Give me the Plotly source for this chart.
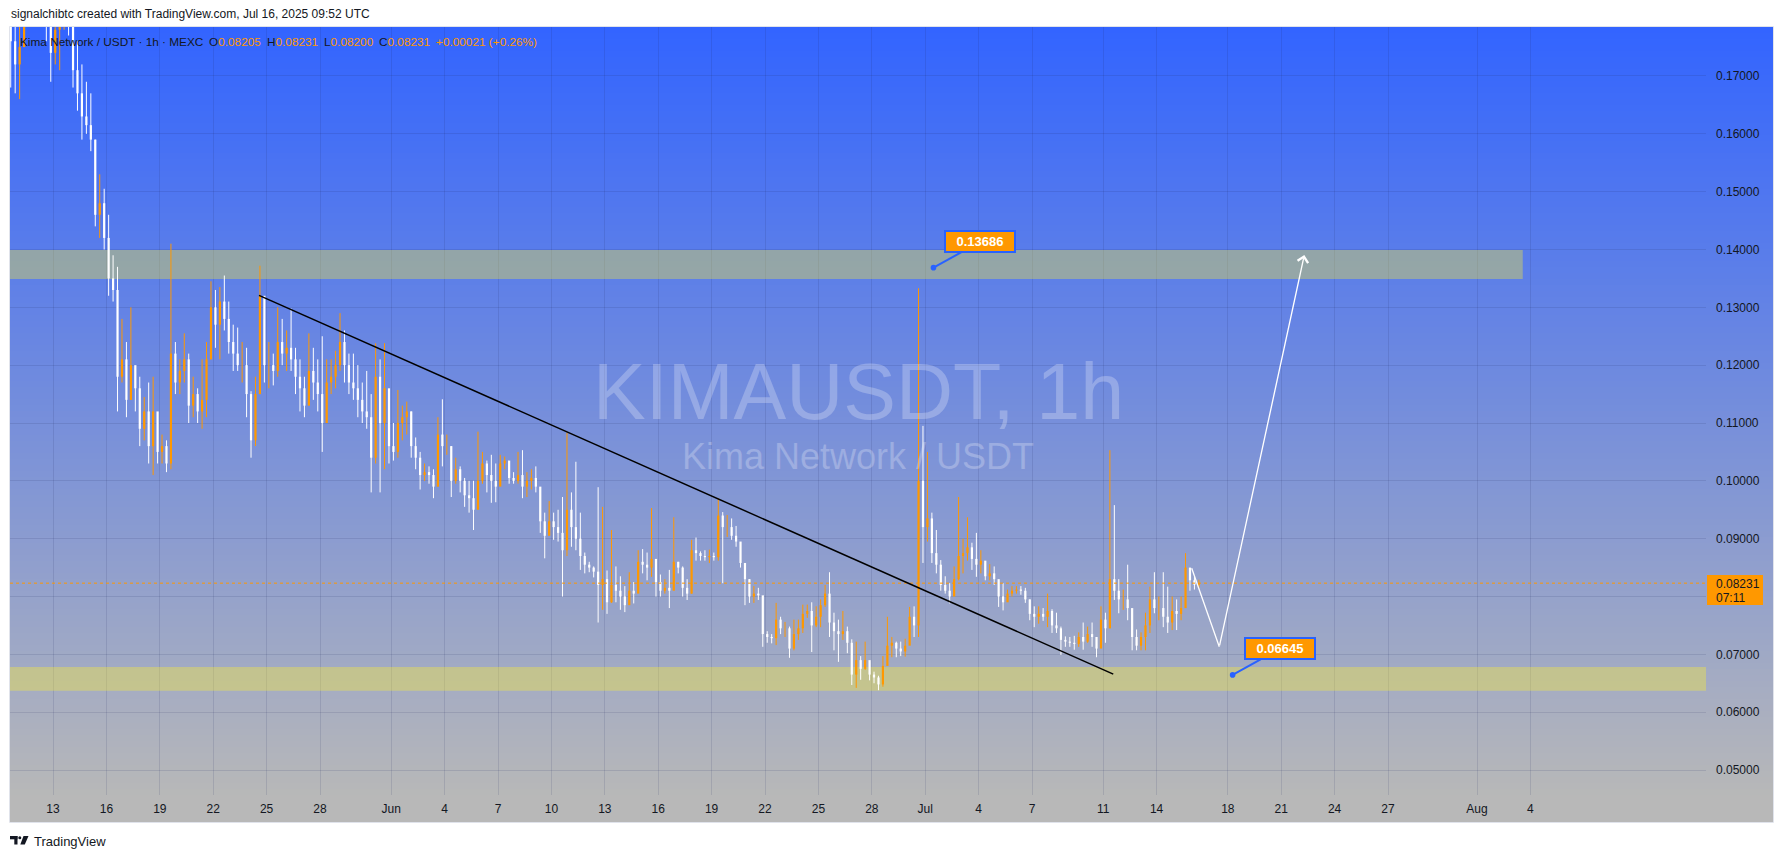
import plotly.graph_objects as go
import pandas as pd

# ---------------- data (6h candles) ----------------
candle_start = "2025-05-10 12:00"
first_open = 0.182

high_6h = [
    0.185, 0.182,                      # May 10 (12h, 18h)
    0.180, 0.190, 0.195, 0.196,        # May 11
    0.192, 0.190, 0.186, 0.183,        # May 12
    0.184, 0.180, 0.190, 0.188,        # May 13
    0.182, 0.176, 0.172, 0.169,        # May 14
    0.167, 0.159, 0.153, 0.1505,       # May 15
    0.146, 0.139, 0.137, 0.128,        # May 16
    0.124, 0.130, 0.1195, 0.118,       # May 17
    0.1145, 0.117, 0.118, 0.110,       # May 18
    0.108, 0.107, 0.141, 0.124,        # May 19
    0.121, 0.1255, 0.122, 0.118,       # May 20
    0.116, 0.121, 0.124, 0.1345,       # May 21
    0.133, 0.1335, 0.1355, 0.131,      # May 22
    0.127, 0.1265, 0.124, 0.123,       # May 23
    0.1155, 0.118, 0.1372, 0.128,      # May 24
    0.124, 0.122, 0.130, 0.128,        # May 25
    0.126, 0.1298, 0.123, 0.121,       # May 26
    0.118, 0.1255, 0.123, 0.121,       # May 27
    0.125, 0.121, 0.121, 0.1225,       # May 28
    0.129, 0.126, 0.122, 0.122,        # May 29
    0.120, 0.117, 0.119, 0.115,        # May 30
    0.1238, 0.121, 0.1238, 0.113,      # May 31
    0.110, 0.1157, 0.113, 0.1137,      # Jun 1
    0.112, 0.1075, 0.105, 0.103,       # Jun 2
    0.1025, 0.102, 0.111, 0.1141,      # Jun 3
    0.108, 0.106, 0.104, 0.1025,       # Jun 4
    0.1005, 0.100, 0.100, 0.1085,      # Jun 5
    0.105, 0.1035, 0.1045, 0.103,      # Jun 6
    0.1045, 0.1042, 0.102, 0.1015,     # Jun 7
    0.105, 0.1053, 0.1015, 0.102,      # Jun 8
    0.1025, 0.0985, 0.0945, 0.0965,    # Jun 9
    0.0945, 0.095, 0.0972, 0.1083,     # Jun 10
    0.098, 0.1033, 0.0945, 0.0876,     # Jun 11
    0.086, 0.0852, 0.0989, 0.0955,     # Jun 12
    0.0845, 0.0915, 0.0852, 0.0835,    # Jun 13
    0.0818, 0.0842, 0.0825, 0.088,     # Jun 14
    0.0882, 0.0876, 0.0953, 0.0852,    # Jun 15
    0.0838, 0.083, 0.0846, 0.0937,     # Jun 16
    0.086, 0.0852, 0.083, 0.0898,      # Jun 17
    0.0902, 0.0878, 0.088, 0.0881,     # Jun 18
    0.0876, 0.097, 0.0946, 0.0941,     # Jun 19
    0.0935, 0.0922, 0.0893, 0.0856,    # Jun 20
    0.083, 0.0818, 0.0815, 0.080,      # Jun 21
    0.074, 0.0735, 0.0789, 0.0765,     # Jun 22
    0.0756, 0.0748, 0.076, 0.076,      # Jun 23
    0.0786, 0.0786, 0.079, 0.0783,     # Jun 24
    0.0795, 0.082, 0.0842, 0.0772,     # Jun 25
    0.076, 0.0775, 0.0748, 0.0726,     # Jun 26
    0.0722, 0.0697, 0.0722, 0.0686,    # Jun 27
    0.067, 0.0663, 0.0697, 0.0765,     # Jun 28
    0.073, 0.0722, 0.0722, 0.0727,     # Jun 29
    0.0782, 0.0783, 0.1333, 0.1095,    # Jun 30
    0.105, 0.0945, 0.0915, 0.0863,     # Jul 1
    0.0835, 0.0823, 0.0852, 0.0972,    # Jul 2
    0.090, 0.0937, 0.0893, 0.091,      # Jul 3
    0.088, 0.0858, 0.0856, 0.0852,     # Jul 4
    0.0828, 0.0823, 0.0812, 0.0818,    # Jul 5
    0.0818, 0.0818, 0.0815, 0.0795,    # Jul 6
    0.0783, 0.0783, 0.078, 0.0805,     # Jul 7
    0.0778, 0.0772, 0.0748, 0.0731,    # Jul 8
    0.073, 0.0732, 0.0738, 0.0755,     # Jul 9
    0.0748, 0.0755, 0.0727, 0.0783,    # Jul 10
    0.0772, 0.1053, 0.0958, 0.083,     # Jul 11
    0.0812, 0.0855, 0.0772, 0.0743,    # Jul 12
    0.0738, 0.0772, 0.0817, 0.0842,    # Jul 13
    0.080, 0.0842, 0.0817, 0.080,      # Jul 14
    0.0795, 0.080, 0.0875, 0.0842,     # Jul 15
    0.0835, 0.0829,                    # Jul 16
]

low_6h = [
    0.168, 0.167,
    0.166, 0.176, 0.182, 0.184,
    0.181, 0.179, 0.176, 0.169,
    0.172, 0.171, 0.178, 0.177,
    0.168, 0.164, 0.159, 0.160,
    0.157, 0.144, 0.142, 0.140,
    0.132, 0.131, 0.112, 0.117,
    0.111, 0.114, 0.112, 0.106,
    0.107, 0.103, 0.101, 0.103,
    0.103, 0.1015, 0.102, 0.115,
    0.115, 0.117, 0.110, 0.111,
    0.110, 0.109, 0.111, 0.121,
    0.123, 0.121, 0.126, 0.122,
    0.119, 0.119, 0.117, 0.111,
    0.104, 0.106, 0.115, 0.117,
    0.116, 0.1165, 0.118, 0.120,
    0.119, 0.119, 0.115, 0.112,
    0.111, 0.114, 0.114, 0.112,
    0.105, 0.110, 0.115, 0.116,
    0.119, 0.117, 0.115, 0.114,
    0.111, 0.110, 0.109, 0.098,
    0.103, 0.098, 0.102, 0.103,
    0.1035, 0.104, 0.107, 0.108,
    0.104, 0.102, 0.0985, 0.100,
    0.0995, 0.097, 0.099, 0.1025,
    0.1045, 0.0972, 0.0995, 0.098,
    0.0955, 0.0945, 0.0915, 0.098,
    0.0995, 0.098, 0.0962, 0.0963,
    0.0995, 0.102, 0.0995, 0.0995,
    0.0995, 0.097, 0.0972, 0.0985,
    0.098, 0.091, 0.0866, 0.091,
    0.0898, 0.0895, 0.080, 0.087,
    0.0886, 0.088, 0.0846, 0.084,
    0.0842, 0.0833, 0.0755, 0.0777,
    0.077, 0.0789, 0.079, 0.0777,
    0.0773, 0.0794, 0.0788, 0.0815,
    0.084, 0.0828, 0.0834, 0.080,
    0.080, 0.0805, 0.078, 0.0828,
    0.084, 0.080, 0.0794, 0.0805,
    0.0862, 0.0862, 0.0862, 0.0858,
    0.0862, 0.0862, 0.0823, 0.0903,
    0.0898, 0.0886, 0.085, 0.0785,
    0.0789, 0.0789, 0.0794, 0.0713,
    0.072, 0.0719, 0.0716, 0.0735,
    0.073, 0.0694, 0.0707, 0.0725,
    0.0737, 0.0763, 0.0704, 0.0747,
    0.0747, 0.0782, 0.073, 0.0707,
    0.0687, 0.0725, 0.0702, 0.0647,
    0.0642, 0.0656, 0.0673, 0.0655,
    0.065, 0.0638, 0.0644, 0.069,
    0.0695, 0.0695, 0.0697, 0.0696,
    0.072, 0.073, 0.073, 0.0858,
    0.0895, 0.0858, 0.084, 0.081,
    0.0805, 0.0788, 0.0806, 0.0828,
    0.084, 0.0862, 0.0846, 0.0834,
    0.084, 0.0828, 0.0828, 0.082,
    0.0782, 0.0776, 0.0794, 0.080,
    0.0805, 0.0803, 0.0789, 0.0759,
    0.0747, 0.0753, 0.0758, 0.0747,
    0.0737, 0.0737, 0.0699, 0.0713,
    0.0713, 0.0708, 0.0713, 0.0708,
    0.072, 0.0713, 0.0695, 0.0713,
    0.072, 0.0745, 0.0794, 0.0771,
    0.0777, 0.0759, 0.0707, 0.0707,
    0.0707, 0.0707, 0.0737, 0.0771,
    0.0759, 0.0747, 0.0737, 0.0742,
    0.0742, 0.0759, 0.0816, 0.081,
    0.0812, 0.0815,
]

close_6h = [
    0.176, 0.172,
    0.175, 0.185, 0.190, 0.188,
    0.186, 0.182, 0.180, 0.174,
    0.178, 0.179, 0.185, 0.182,
    0.171, 0.167, 0.163, 0.1615,
    0.159, 0.146, 0.148, 0.142,
    0.135, 0.133, 0.118, 0.121,
    0.114, 0.120, 0.116, 0.109,
    0.112, 0.106, 0.112, 0.105,
    0.106, 0.103, 0.122, 0.117,
    0.119, 0.121, 0.113, 0.115,
    0.112, 0.114, 0.121, 0.130,
    0.127, 0.131, 0.128, 0.124,
    0.122, 0.120, 0.120, 0.115,
    0.107, 0.115, 0.132, 0.120,
    0.120, 0.119, 0.124, 0.122,
    0.123, 0.121, 0.118, 0.116,
    0.113, 0.119, 0.117, 0.115,
    0.110, 0.117, 0.118, 0.120,
    0.124, 0.120, 0.117, 0.116,
    0.114, 0.112, 0.111, 0.104,
    0.118, 0.110, 0.116, 0.106,
    0.105, 0.110, 0.111, 0.112,
    0.106, 0.104, 0.101, 0.1015,
    0.101, 0.099, 0.108, 0.106,
    0.106, 0.100, 0.102, 0.100,
    0.0975, 0.097, 0.095, 0.100,
    0.103, 0.101, 0.100, 0.099,
    0.103, 0.1035, 0.1005, 0.100,
    0.101, 0.099, 0.100, 0.1005,
    0.099, 0.093, 0.0905, 0.093,
    0.092, 0.091, 0.088, 0.095,
    0.092, 0.090, 0.087, 0.0855,
    0.085, 0.0843, 0.082, 0.083,
    0.079, 0.082, 0.081, 0.080,
    0.0785, 0.081, 0.0805, 0.086,
    0.0855, 0.085, 0.0865, 0.0825,
    0.081, 0.0815, 0.081, 0.086,
    0.085, 0.0815, 0.0805, 0.088,
    0.0875, 0.087, 0.0868, 0.087,
    0.0868, 0.094, 0.092, 0.092,
    0.0905, 0.0895, 0.0858, 0.083,
    0.080, 0.0805, 0.0802, 0.0735,
    0.073, 0.0728, 0.076, 0.0745,
    0.0745, 0.071, 0.0735, 0.0745,
    0.077, 0.0775, 0.075, 0.0765,
    0.0785, 0.0805, 0.0755, 0.074,
    0.0735, 0.074, 0.072, 0.0665,
    0.069, 0.0675, 0.069, 0.0665,
    0.066, 0.0648, 0.068, 0.0715,
    0.072, 0.071, 0.0705, 0.0715,
    0.0765, 0.075, 0.100, 0.092,
    0.0935, 0.0875, 0.0855, 0.082,
    0.081, 0.080, 0.083, 0.087,
    0.0875, 0.0885, 0.0865, 0.0855,
    0.0862, 0.0835, 0.084, 0.083,
    0.080, 0.079, 0.0805, 0.081,
    0.0812, 0.081, 0.0795, 0.077,
    0.0765, 0.077, 0.0765, 0.0775,
    0.075, 0.0745, 0.0725, 0.0722,
    0.072, 0.0718, 0.073, 0.0722,
    0.0735, 0.073, 0.071, 0.076,
    0.0745, 0.083, 0.081, 0.0795,
    0.0795, 0.078, 0.073, 0.0715,
    0.073, 0.075, 0.0795, 0.078,
    0.078, 0.0765, 0.0755, 0.0775,
    0.077, 0.078, 0.085, 0.0828,
    0.08205, 0.08231,
]

price_ticks = [0.05, 0.06, 0.07, 0.08, 0.09, 0.10, 0.11, 0.12, 0.13, 0.14, 0.15, 0.16, 0.17]
date_ticks = ["2025-05-13", "2025-05-16", "2025-05-19", "2025-05-22", "2025-05-25", "2025-05-28",
              "2025-06-01", "2025-06-04", "2025-06-07", "2025-06-10", "2025-06-13", "2025-06-16",
              "2025-06-19", "2025-06-22", "2025-06-25", "2025-06-28", "2025-07-01", "2025-07-04",
              "2025-07-07", "2025-07-11", "2025-07-14", "2025-07-18", "2025-07-21", "2025-07-24",
              "2025-07-27", "2025-08-01", "2025-08-04"]
date_tick_labels = ["13", "16", "19", "22", "25", "28", "Jun", "4", "7", "10", "13", "16", "19",
                    "22", "25", "28", "Jul", "4", "7", "11", "14", "18", "21", "24", "27", "Aug", "4"]

last_price = 0.08231
last_price_time = "07:11"
resistance_zone = (0.1349, 0.1399)
resistance_zone_end = "2025-08-03 13:40"
support_zone = (0.0637, 0.0678)
trend_line = [("2025-05-24 13:45", 0.13207), ("2025-07-11 13:35", 0.06659)]
projection = [("2025-07-15 23:20", 0.08487), ("2025-07-17 12:30", 0.07131), ("2025-07-22 07:10", 0.13905)]
label_high = ("2025-07-01 11:10", 0.13686)
label_low = ("2025-07-18 06:30", 0.06645)

# ---------------- geometry / style ----------------
W, H = 1784, 858
PL, PR, PT, PB = 10, 1706, 27, 795          # plot area in pixels
PANE_R, AXIS_B = 1773, 822
DAY0 = pd.Timestamp("2025-05-13")
X_DAY0, PX_PER_DAY = 53.0, 17.8
Y_RANGE = [0.04568, 0.17847]

ORANGE = "#ff9800"
BLUE = "#2962ff"
TXT = "#131722"
FONT = "Liberation Sans, Arial, sans-serif"


def pxx(x):
    return (x - PL) / (PR - PL)


def pxy(y):
    return (PB - y) / (PB - PT)


x_range = [DAY0 + pd.Timedelta(days=(PL - X_DAY0) / PX_PER_DAY),
           DAY0 + pd.Timedelta(days=(PR - X_DAY0) / PX_PER_DAY)]

n = len(close_6h)
assert len(high_6h) == n and len(low_6h) == n
times = pd.date_range(candle_start, periods=n, freq="6h") + pd.Timedelta(hours=3)
open_6h = [first_open] + close_6h[:-1]

fig = go.Figure()
# candles drawn as thin wicks + narrow bodies
for up, color in ((False, "#ffffff"), (True, ORANGE)):
    wx, wy, bx, by = [], [], [], []
    for t, o, h, l, c in zip(times, open_6h, high_6h, low_6h, close_6h):
        if (c >= o) != up:
            continue
        wx += [t, t, None]
        wy += [l, h, None]
        bx += [t, t, None]
        by += [o, c, None]
    fig.add_trace(go.Scatter(x=wx, y=wy, mode="lines", line=dict(color=color, width=1),
                             hoverinfo="skip", showlegend=False, connectgaps=False))
    fig.add_trace(go.Scatter(x=bx, y=by, mode="lines", line=dict(color=color, width=2.2),
                             hoverinfo="skip", showlegend=False, connectgaps=False))

shapes = []
# background gradient (pane + price scale)
top_c, bot_c = (50, 100, 255), (184, 184, 184)
NB = 128
band = (PB - PT) / NB
for i in range(NB):
    t = (i + 0.5) / NB
    c = tuple(round(top_c[k] + (bot_c[k] - top_c[k]) * t) for k in range(3))
    shapes.append(dict(type="rect", xref="paper", yref="paper", layer="below",
                       x0=pxx(PL), x1=pxx(PANE_R),
                       y0=pxy(PT + i * band), y1=pxy(PT + (i + 1) * band + 0.6),
                       fillcolor="rgb(%d,%d,%d)" % c, line=dict(width=0)))
# time-scale strip
shapes.append(dict(type="rect", xref="paper", yref="paper", layer="below",
                   x0=pxx(PL), x1=pxx(PANE_R), y0=pxy(PB), y1=pxy(AXIS_B),
                   fillcolor="rgb(184,184,184)", line=dict(width=0)))
# pane border
shapes.append(dict(type="rect", xref="paper", yref="paper", layer="below",
                   x0=pxx(PL - 0.5), x1=pxx(PANE_R + 0.5), y0=pxy(PT - 0.5), y1=pxy(AXIS_B + 0.5),
                   fillcolor="rgba(0,0,0,0)", line=dict(width=1, color="#e0e3eb")))
# zones
zone_fill = "rgba(255,241,45,0.35)"
shapes.append(dict(type="rect", xref="x", yref="y", layer="between",
                   x0="2025-05-01", x1=resistance_zone_end,
                   y0=resistance_zone[0], y1=resistance_zone[1],
                   fillcolor=zone_fill, line=dict(width=0)))
shapes.append(dict(type="rect", xref="x", yref="y", layer="between",
                   x0="2025-05-01", x1="2025-09-30",
                   y0=support_zone[0], y1=support_zone[1],
                   fillcolor=zone_fill, line=dict(width=0)))
# last price dotted line
shapes.append(dict(type="line", xref="paper", yref="y", layer="above",
                   x0=0, x1=1, y0=last_price, y1=last_price,
                   line=dict(color=ORANGE, width=1, dash="dot")))
# trend line
shapes.append(dict(type="line", xref="x", yref="y", layer="above",
                   x0=trend_line[0][0], y0=trend_line[0][1],
                   x1=trend_line[1][0], y1=trend_line[1][1],
                   line=dict(color="#000000", width=1.5)))
# projection first leg
shapes.append(dict(type="line", xref="x", yref="y", layer="above",
                   x0=projection[0][0], y0=projection[0][1],
                   x1=projection[1][0], y1=projection[1][1],
                   line=dict(color="#ffffff", width=1.3)))
# last price tag
shapes.append(dict(type="rect", xref="paper", yref="paper", layer="above",
                   x0=pxx(1707), x1=pxx(1763), y0=pxy(575), y1=pxy(605),
                   fillcolor=ORANGE, line=dict(width=0)))
# TradingView logo
LOGO = TXT
shapes.append(dict(type="rect", xref="paper", yref="paper", x0=pxx(10), x1=pxx(17.5),
                   y0=pxy(836), y1=pxy(839.3), fillcolor=LOGO, line=dict(width=0)))
shapes.append(dict(type="rect", xref="paper", yref="paper", x0=pxx(14.3), x1=pxx(17.5),
                   y0=pxy(836), y1=pxy(844.5), fillcolor=LOGO, line=dict(width=0)))
shapes.append(dict(type="circle", xref="paper", yref="paper", x0=pxx(18.3), x1=pxx(21.3),
                   y0=pxy(836.3), y1=pxy(839.3), fillcolor=LOGO, line=dict(width=0)))
shapes.append(dict(type="path", xref="paper", yref="paper",
                   path="M %f,%f L %f,%f L %f,%f L %f,%f Z" % (
                       pxx(23.5), pxy(836), pxx(28.5), pxy(836),
                       pxx(24.8), pxy(844.5), pxx(20.3), pxy(844.5)),
                   fillcolor=LOGO, line=dict(width=0)))

annotations = []
# header
annotations.append(dict(xref="paper", yref="paper", x=pxx(9), y=pxy(14.5), xanchor="left",
                        yanchor="middle", showarrow=False,
                        text="signalchibtc created with TradingView.com, Jul 16, 2025 09:52 UTC",
                        font=dict(family=FONT, size=12, color=TXT)))
# legend row
legend_items = [
    (18.4, "Kima Network / USDT · 1h · MEXC"),
    (206.5, "O<span style='color:%s'>0.08205</span>" % ORANGE),
    (264.5, "H<span style='color:%s'>0.08231</span>" % ORANGE),
    (321.5, "L<span style='color:%s'>0.08200</span>" % ORANGE),
    (377.0, "C<span style='color:%s'>0.08231</span>" % ORANGE),
    (434.0, "<span style='color:%s'>+0.00021 (+0.26%%)</span>" % ORANGE),
]
for lx, lt in legend_items:
    annotations.append(dict(xref="paper", yref="paper", x=pxx(lx), y=pxy(42), xanchor="left",
                            yanchor="middle", showarrow=False, text=lt,
                            font=dict(family=FONT, size=11.8, color=TXT)))
# watermark
annotations.append(dict(xref="paper", yref="paper", x=0.5, y=pxy(391), xanchor="center",
                        yanchor="middle", showarrow=False, text="KIMAUSDT, 1h",
                        font=dict(family=FONT, size=79, color="rgba(255,255,255,0.25)")))
annotations.append(dict(xref="paper", yref="paper", x=0.5, y=pxy(456), xanchor="center",
                        yanchor="middle", showarrow=False, text="Kima Network / USDT",
                        font=dict(family=FONT, size=36, color="rgba(255,255,255,0.25)")))
# price labels
for (lx, ly) in (label_high, label_low):
    annotations.append(dict(xref="x", yref="y", x=lx, y=ly, showarrow=True,
                            ax=47, ay=-26, arrowcolor=BLUE, arrowwidth=2, arrowhead=6,
                            arrowsize=0.7, standoff=0,
                            text="<b>%.5f</b>" % ly, bgcolor=ORANGE, bordercolor=BLUE,
                            borderwidth=2, borderpad=2, width=64, height=15,
                            font=dict(family=FONT, size=13, color="#ffffff")))
# projection arrow (second leg)
annotations.append(dict(xref="x", yref="y", axref="x", ayref="y",
                        x=projection[2][0], y=projection[2][1],
                        ax=projection[1][0], ay=projection[1][1],
                        showarrow=True, arrowcolor="#ffffff", arrowwidth=1.3,
                        arrowhead=4, arrowsize=1.6, text=""))
# last price tag text
annotations.append(dict(xref="paper", yref="paper", x=pxx(1714), y=pxy(583.5), xanchor="left",
                        yanchor="middle", showarrow=False, text="%.5f" % last_price,
                        font=dict(family=FONT, size=12, color=TXT)))
annotations.append(dict(xref="paper", yref="paper", x=pxx(1714), y=pxy(597.5), xanchor="left",
                        yanchor="middle", showarrow=False, text=last_price_time,
                        font=dict(family=FONT, size=12, color=TXT)))
# footer
annotations.append(dict(xref="paper", yref="paper", x=pxx(31.5), y=pxy(841), xanchor="left",
                        yanchor="middle", showarrow=False, text="TradingView",
                        font=dict(family=FONT, size=13, color=TXT)))

grid_c = "rgba(30,40,90,0.13)"
fig.update_layout(
    width=W, height=H,
    margin=dict(l=PL, r=W - PR, t=PT, b=H - PB, pad=0),
    paper_bgcolor="#ffffff", plot_bgcolor="rgba(0,0,0,0)",
    showlegend=False,
    shapes=shapes, annotations=annotations,
    xaxis=dict(type="date", range=x_range,
               tickvals=date_ticks, ticktext=date_tick_labels,
               showgrid=True, gridcolor=grid_c, gridwidth=1, zeroline=False,
               showline=False, ticks="", ticklabelstandoff=5,
               tickfont=dict(family=FONT, size=12, color=TXT), fixedrange=True),
    yaxis=dict(range=Y_RANGE, side="right", tickvals=price_ticks,
               ticktext=["" if abs(v - 0.08) < 1e-9 else "%.5f" % v for v in price_ticks],
               showgrid=True, gridcolor=grid_c, gridwidth=1, zeroline=False,
               showline=False, ticks="", ticklabelstandoff=9,
               tickfont=dict(family=FONT, size=12, color=TXT), fixedrange=True),
)

fig.write_html("out.html", config={"displayModeBar": False},
               post_script="document.body.style.margin='0';document.body.style.overflow='hidden';")
